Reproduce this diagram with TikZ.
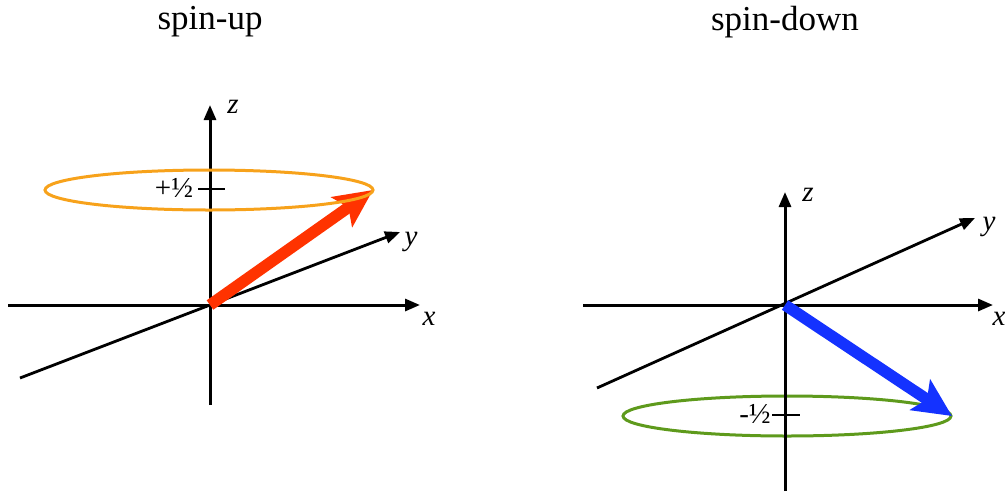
\documentclass[tikz,border=0pt]{standalone}
\usepackage{fontspec}
\setmainfont{Liberation Serif}
\usepackage{xcolor}
\usetikzlibrary{arrows.meta,positioning,calc}
\definecolor{spinred}{HTML}{FF3300}
\definecolor{spinblue}{HTML}{1432FF}
\definecolor{ringorange}{HTML}{F7A21B}
\definecolor{ringgreen}{HTML}{5E9A1C}

\begin{document}
\begin{tikzpicture}[
  x=1pt, y=-1pt,
  axis/.style={line width=3pt, -{Triangle[length=15pt, width=12pt]}},
  tickmark/.style={line width=2pt},
  ring/.style={line width=3pt},
  spinarr/.style={line width=11.5pt, -{Stealth[length=38pt, width=36pt, inset=8pt]}},
  title/.style={font=\fontsize{35}{40}\selectfont},
  axlabel/.style={font=\fontsize{29}{32}\selectfont\itshape},
  level/.style={font=\fontsize{29}{32}\selectfont}
]
  \useasboundingbox (0,0) rectangle (1005,491);

  % spin-up
  \node[title] (tup) at (210,22) {spin-up};
  \coordinate (oL) at (210,305);
  \coordinate (zLb) at (210,405);
  \coordinate (zLt) at (210,105);
  \coordinate (xLb) at (8,305);
  \coordinate (xLt) at (420,305);
  \coordinate (yLb) at (20,378);
  \coordinate (yLt) at (400,232);
  \coordinate (sL) at (373,190);
  \coordinate (tLa) at (198,189);
  \coordinate (tLb) at (225,189);

  \draw[axis] (zLb) -- (zLt);
  \draw[axis] (xLb) -- (xLt);
  \draw[axis, line width=2.8pt] (yLb) -- (yLt);
  \draw[tickmark] (tLa) -- (tLb);
  \draw[spinarr, spinred] (oL) -- (sL);
  \draw[ring, ringorange] (209,190) ellipse [x radius=164, y radius=20];

  \node[axlabel] (lzL) at (233,107) {z};
  \node[axlabel] (lxL) at (429,319) {x};
  \node[axlabel] (lyL) at (411,242) {y};
  \node[level] (hL) at (174,188) {+½};

  % spin-down
  \node[title] (tdown) at (785,22) {spin-down};
  \coordinate (oR) at (785,305);
  \coordinate (zRb) at (785,491);
  \coordinate (zRt) at (785,192);
  \coordinate (xRb) at (583,305);
  \coordinate (xRt) at (993,305);
  \coordinate (yRb) at (597,388);
  \coordinate (yRt) at (975,218);
  \coordinate (sR) at (952,416);
  \coordinate (tRa) at (772,415);
  \coordinate (tRb) at (800,415);

  \draw[ring, ringgreen] (787,416) ellipse [x radius=164, y radius=20];
  \draw[axis] (zRb) -- (zRt);
  \draw[axis] (xRb) -- (xRt);
  \draw[axis, line width=2.8pt] (yRb) -- (yRt);
  \draw[tickmark] (tRa) -- (tRb);
  \draw[spinarr, spinblue] (oR) -- (sR);

  \node[axlabel] (lzR) at (808,195) {z};
  \node[axlabel] (lxR) at (999,319) {x};
  \node[axlabel] (lyR) at (989,227) {y};
  \node[level] (hR) at (755,414) {-½};
\end{tikzpicture}
\end{document}
